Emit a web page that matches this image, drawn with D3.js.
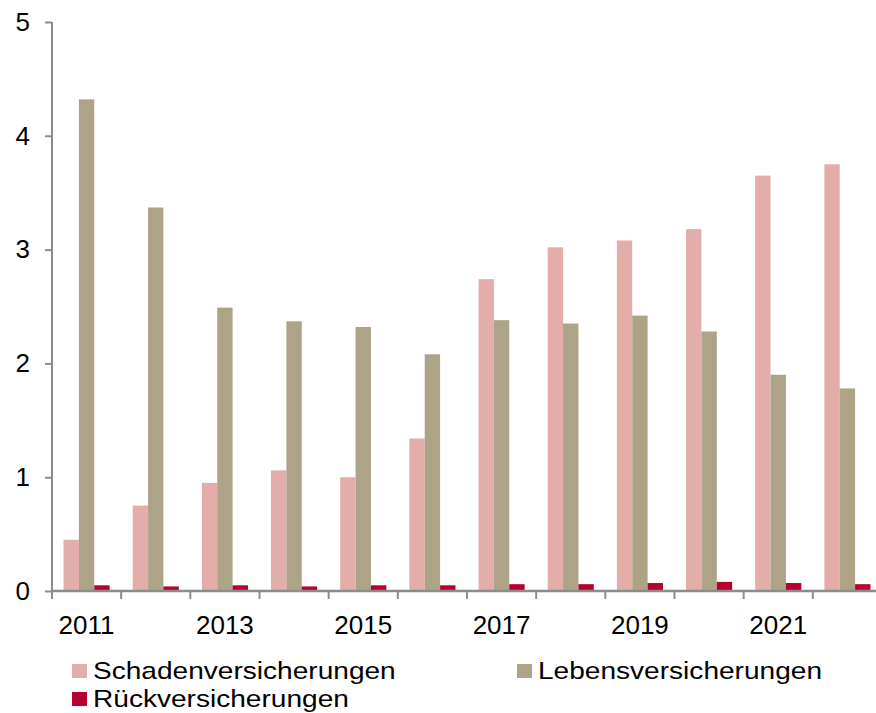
<!DOCTYPE html>
<html>
<head>
<meta charset="utf-8">
<script src="https://cdn.jsdelivr.net/npm/d3@7"></script>
<style>
  body { margin: 0; background: #fff; }
  svg text { font-family: Arial, "Liberation Sans", sans-serif; fill: #000; }
</style>
</head>
<body>
<div class="chart"></div>
<script>
// Daten
var years = ["2011","2012","2013","2014","2015","2016","2017","2018","2019","2020","2021","2022"];
var yearLabels = ["2011","2013","2015","2017","2019","2021"];
var schaden = [0.45, 0.75, 0.95, 1.06, 1.00, 1.34, 2.74, 3.02, 3.08, 3.18, 3.65, 3.75];
var leben   = [4.32, 3.37, 2.49, 2.37, 2.32, 2.08, 2.38, 2.35, 2.42, 2.28, 1.90, 1.78];
var rueck   = [0.05, 0.04, 0.05, 0.04, 0.05, 0.05, 0.06, 0.06, 0.07, 0.08, 0.07, 0.06];
var seriesNames = ["Schadenversicherungen", "Lebensversicherungen", "Rückversicherungen"];
var colors = ["#e3aeaa", "#ada386", "#b80030"];
var yTicks = [0, 1, 2, 3, 4, 5];

var width = 876, height = 713;
var x0 = 52, x1 = 882, yTop = 22, yBase = 591;
var stretch = 1.17; // Schrift im Original etwas breit gezogen

var series = [schaden, leben, rueck];
var rows = years.map(function (y, i) {
  return { year: y, values: series.map(function (s, k) { return { key: k, value: s[i] }; }) };
});

var xScale = d3.scaleBand().domain(years).range([x0, x1]).paddingInner(0).paddingOuter(0);
var xInner = d3.scaleBand().domain([0, 1, 2]).range([0, xScale.bandwidth()]).paddingOuter(0.75).paddingInner(0);
var yScale = d3.scaleLinear().domain([0, 5]).range([yBase, yTop]);

var svg = d3.select(".chart").append("svg")
  .attr("width", width)
  .attr("height", height);

// Balken
var groups = svg.selectAll(".grp")
  .data(rows)
  .enter().append("g")
  .attr("class", "grp")
  .attr("transform", function (d) { return "translate(" + xScale(d.year) + ",0)"; });

groups.selectAll("rect")
  .data(function (d) { return d.values; })
  .enter().append("rect")
  .attr("x", function (d) { return xInner(d.key); })
  .attr("width", xInner.bandwidth())
  .attr("y", function (d) { return yScale(d.value); })
  .attr("height", function (d) { return yBase - yScale(d.value); })
  .attr("fill", function (d) { return colors[d.key]; });

// y-Achse
var yAxis = d3.axisLeft(yScale).tickValues(yTicks).tickSize(7).tickPadding(0).tickFormat(d3.format("d"));
var gy = svg.append("g").attr("transform", "translate(" + x0 + ",0)").call(yAxis);
gy.select(".domain").attr("stroke", "#8c8c8c").attr("stroke-width", 2).attr("d", "M0," + yTop + "V" + yBase);
gy.selectAll(".tick line").attr("stroke", "#8c8c8c").attr("stroke-width", 2);
gy.selectAll(".tick text")
  .attr("x", -22)
  .attr("font-size", "26px");

// x-Achse
var gx = svg.append("g").attr("transform", "translate(0," + yBase + ")");
gx.append("line")
  .attr("x1", x0).attr("x2", width)
  .attr("stroke", "#8c8c8c").attr("stroke-width", 2.5);
gx.selectAll(".xt")
  .data(years)
  .enter().append("line")
  .attr("class", "xt")
  .attr("x1", function (d) { return xScale(d); })
  .attr("x2", function (d) { return xScale(d); })
  .attr("y1", 0).attr("y2", 8)
  .attr("stroke", "#8c8c8c").attr("stroke-width", 2);
gx.selectAll(".xl")
  .data(yearLabels)
  .enter().append("text")
  .attr("class", "xl")
  .attr("x", function (d) { return xScale(d) + xScale.bandwidth() / 2; })
  .attr("y", 43)
  .attr("text-anchor", "middle")
  .attr("font-size", "26px")
  .text(function (d) { return d; });

// Legende
var legendPos = [[72, 664], [517, 664], [72, 692]];
var lg = svg.selectAll(".lg")
  .data(seriesNames)
  .enter().append("g")
  .attr("class", "lg")
  .attr("transform", function (d, i) { return "translate(" + legendPos[i][0] + "," + legendPos[i][1] + ")"; });
lg.append("rect")
  .attr("width", 15).attr("height", 14)
  .attr("fill", function (d, i) { return colors[i]; });
lg.append("text")
  .attr("transform", "translate(21,15) scale(" + stretch + ",1)")
  .attr("font-size", "24px")
  .text(function (d) { return d; });
</script>
</body>
</html>
